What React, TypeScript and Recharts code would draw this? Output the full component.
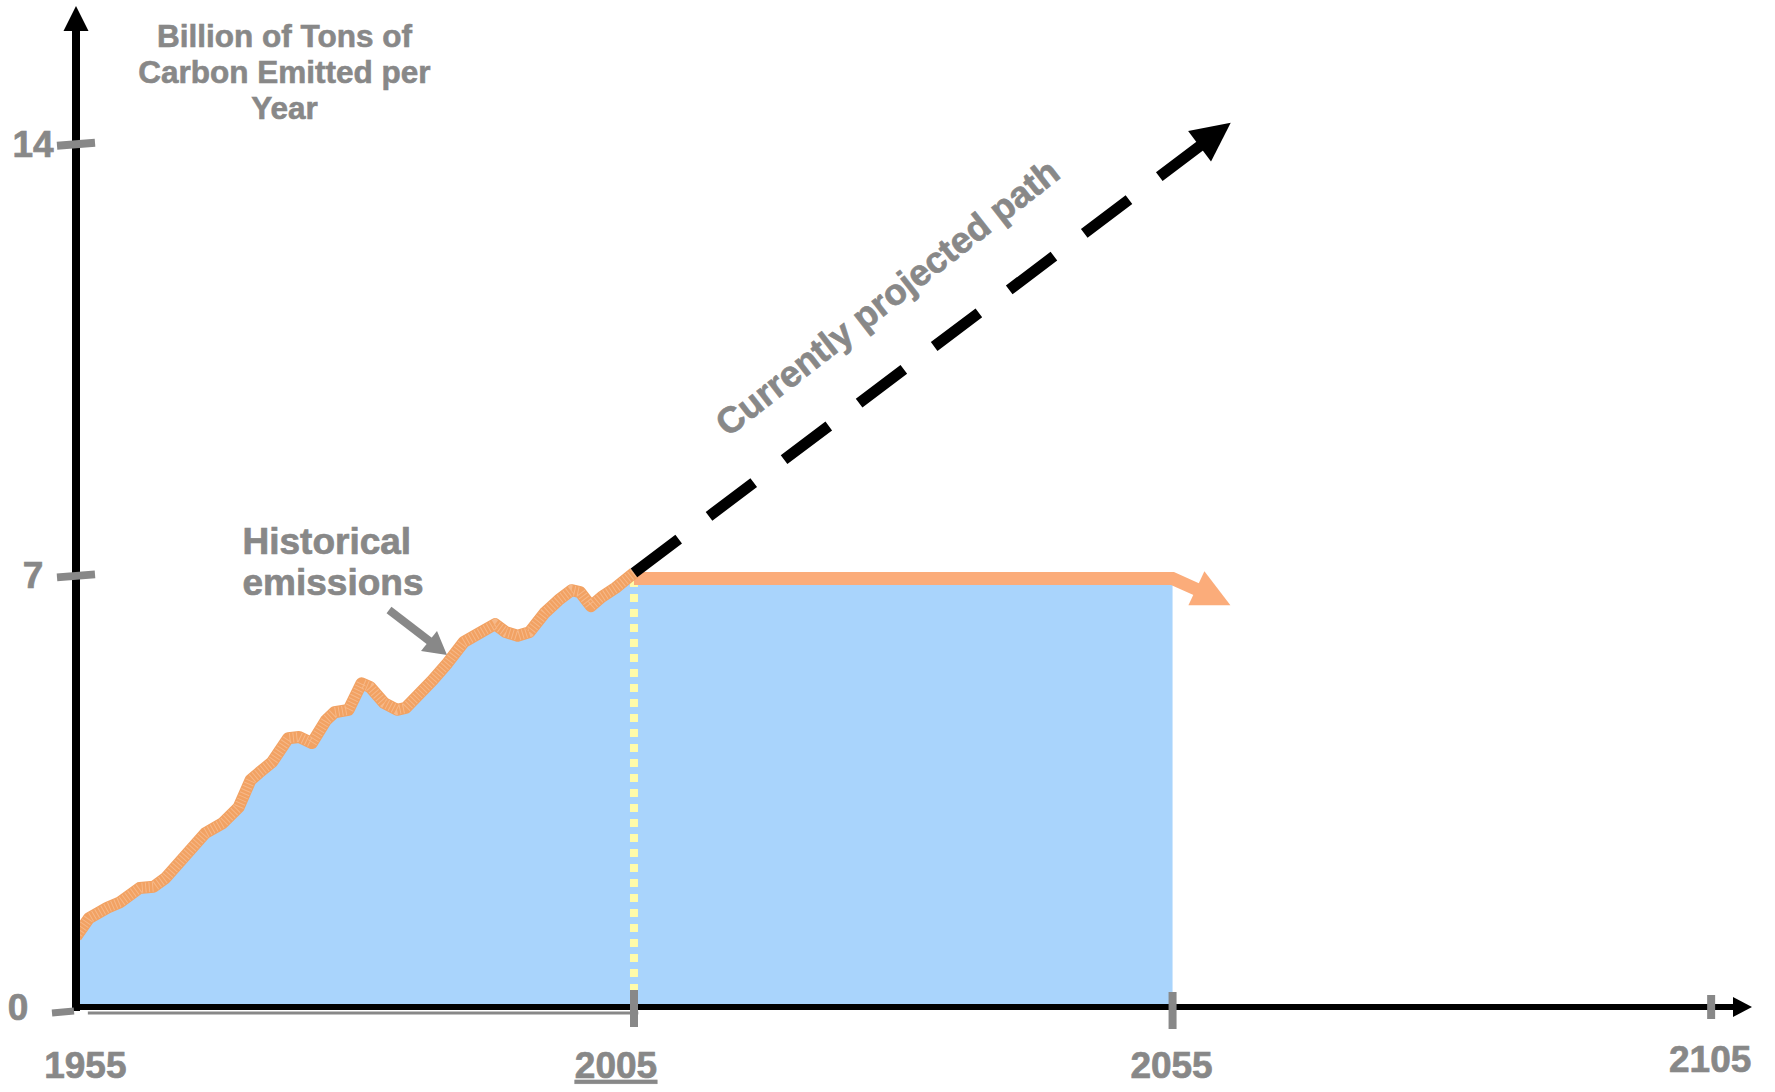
import React from 'react';
import {
  ComposedChart,
  Line,
  Area,
  XAxis,
  YAxis,
  ReferenceDot,
  ReferenceLine,
  Customized,
} from 'recharts';

// ---------- data ----------
const historyYears = [
  1953.2, 1954.4, 1956.1, 1957.3, 1959.1, 1960.4, 1961.5, 1965.2, 1966.8, 1968.3,
  1969.4, 1970.2, 1971.4, 1972.9, 1973.9, 1975.1, 1976.4, 1977.2, 1978.5, 1979.7,
  1980.5, 1981.8, 1983.0, 1983.8, 1986.3, 1987.7, 1989.2, 1990.7, 1992.1, 1993.1,
  1994.2, 1995.3, 1996.7, 1998.0, 1999.2, 2000.0, 2001.0, 2002.0, 2003.3, 2005.0,
];
const historyValues = [
  1.14, 1.44, 1.61, 1.7, 1.93, 1.95, 2.09, 2.82, 2.98, 3.24,
  3.68, 3.8, 3.97, 4.36, 4.38, 4.28, 4.65, 4.78, 4.82, 5.25,
  5.19, 4.93, 4.82, 4.85, 5.3, 5.58, 5.92, 6.07, 6.21, 6.08,
  6.02, 6.08, 6.39, 6.6, 6.76, 6.73, 6.5, 6.65, 6.8, 7.04,
];
const flatYears = [2005, 2055, 2057.4];
const flatValues = [6.95, 6.95, 6.76];
const projectedYears = [2005, 2060.4];
const projectedValues = [7.04, 14.34];
const markerYears = [2005, 2005];
const markerValues = [0, 6.95];

const xTicks = [1955, 2005, 2055, 2105];
const yTicks = [0, 7, 14];
const xDomain: [number, number] = [1953.2, 2107.4];
const yDomain: [number, number] = [0, 15.91];

const titleLines = ['Billion of Tons of', 'Carbon Emitted per', 'Year'];
const historicalLabel = ['Historical', 'emissions'];
const flatLabel = 'Flat path';
const projectedLabel = 'Currently projected path';

// ---------- tables built from the arrays ----------
const zip = (xs: number[], ys: number[]) => xs.map((year, i) => ({ year, value: ys[i] }));
const historyData = zip(historyYears, historyValues);
const flatData = zip(flatYears, flatValues);
const projectedData = zip(projectedYears, projectedValues);
const markerData = zip(markerYears, markerValues);
const areaData = [...historyData, flatData[0], flatData[1]];

// ---------- styles ----------
const FONT = 'Liberation Sans, Arial, Helvetica, sans-serif';
const GREY = '#888888';
const BLUE = '#A9D4FC';
const ORANGE_FLAT = '#FBAC7A';
const ORANGE_HIST = '#F2A263';
const ORANGE_HIST_LIGHT = '#F8C299';
const YELLOW = '#FFFBAA';
const boldStyle = { fontWeight: 700, fontFamily: FONT } as React.CSSProperties;

const xTickStyle: Record<number, { up: number; down: number; dx: number; dy: number; mark: boolean }> = {
  1955: { up: 0, down: 0, dx: -10, dy: 71, mark: false },
  2005: { up: 17, down: 20, dx: -18, dy: 71, mark: true },
  2055: { up: 15, down: 22, dx: -1, dy: 71, mark: true },
  2105: { up: 12, down: 12, dx: -1, dy: 65, mark: true },
};

const XTick = (props: any) => {
  const { x, y, payload } = props;
  const v = payload.value as number;
  const s = xTickStyle[v] || { up: 16, down: 20, dx: 0, dy: 71, mark: true };
  return (
    <g>
      {s.mark && (
        <line x1={x} y1={y - s.up} x2={x} y2={y + s.down} stroke={GREY} strokeWidth={8} />
      )}
      <text
        x={x + s.dx}
        y={y + s.dy}
        textAnchor="middle"
        fontFamily={FONT}
        fontWeight="bold"
        fontSize={37}
        fill={GREY}
        stroke={GREY}
        strokeWidth={0.7}
        style={v === 2005 ? { ...boldStyle, textDecoration: 'underline' } : boldStyle}
      >
        {v}
      </text>
    </g>
  );
};

const YTick = (props: any) => {
  const { x, y, payload } = props;
  const v = payload.value as number;
  const isZero = v === 0;
  return (
    <g>
      {isZero ? (
        <line x1={x - 24} y1={y + 6} x2={x - 2} y2={y + 4} stroke={GREY} strokeWidth={7} />
      ) : (
        <line x1={x - 19} y1={y + 2} x2={x + 19} y2={y - 1} stroke={GREY} strokeWidth={8} />
      )}
      <text
        x={isZero ? x - 58 : x - 43}
        y={y + 13}
        textAnchor="middle"
        fontFamily={FONT}
        fontWeight="bold"
        fontSize={37}
        fill={GREY}
        stroke={GREY}
        strokeWidth={0.7}
        style={boldStyle}
      >
        {v}
      </text>
    </g>
  );
};

// arrowhead at the last point of a line, oriented along the last segment
const seenProj: Record<number, { x: number; y: number }> = {};
const ProjectedArrowDot = (props: any) => {
  const { cx, cy, index } = props;
  seenProj[index] = { x: cx, y: cy };
  const pts = props.points;
  const last = projectedData.length - 1;
  if (index !== last) return <g key={`pd-${index}`} />;
  const prev = pts && pts[index - 1] ? pts[index - 1] : seenProj[index - 1];
  if (!prev) return <g key={`pd-${index}`} />;
  const ang = Math.atan2(cy - prev.y, cx - prev.x);
  const len = 39;
  const half = 19;
  const bx = cx - len * Math.cos(ang);
  const by = cy - len * Math.sin(ang);
  const px = -Math.sin(ang) * half;
  const py = Math.cos(ang) * half;
  return (
    <polygon
      key={`pd-${index}`}
      points={`${cx},${cy} ${bx + px},${by + py} ${bx - px},${by - py}`}
      fill="#000"
    />
  );
};

const FlatArrowDot = (props: any) => {
  const { cx, cy, index } = props;
  if (index !== flatData.length - 1) return <g key={`fd-${index}`} />;
  return (
    <polygon
      key={`fd-${index}`}
      points={`${cx + 6},${cy - 19} ${cx - 10},${cy + 15} ${cx + 32},${cy + 15}`}
      fill={ORANGE_FLAT}
    />
  );
};

const XArrow = (props: any) => {
  const { cx, cy } = props;
  return <polygon points={`${cx + 15},${cy} ${cx - 4},${cy - 10} ${cx - 4},${cy + 10}`} fill="#000" />;
};
const YArrow = (props: any) => {
  const { cx, cy } = props;
  return <polygon points={`${cx},${cy - 20} ${cx - 12.5},${cy + 5} ${cx + 12.5},${cy + 5}`} fill="#000" />;
};

const AxisShadow = (props: any) => {
  const { x1, y1, x2, y2 } = props;
  return <line x1={x1} y1={y1 + 6} x2={x2} y2={y2 + 6} stroke={GREY} strokeWidth={3} />;
};

const Annotations = () => (
  <g fontFamily={FONT} fontWeight="bold" style={boldStyle}>
    {titleLines.map((t, i) => (
      <text
        key={t}
        x={284.5}
        y={46.7 + i * 36.3}
        textAnchor="middle"
        fontSize={31.5}
        fill={GREY}
        stroke={GREY}
        strokeWidth={0.6}
      >
        {t}
      </text>
    ))}
    {historicalLabel.map((t, i) => (
      <text
        key={t}
        x={242.5}
        y={554 + i * 41}
        textAnchor="start"
        fontSize={37}
        fill={GREY}
        stroke={GREY}
        strokeWidth={0.7}
      >
        {t}
      </text>
    ))}
    <line x1={389} y1={610} x2={432} y2={643} stroke={GREY} strokeWidth={8} />
    <polygon points="447,655 421,651 437,631" fill={GREY} />
    <text x={952} y={630} textAnchor="middle" fontSize={37} fill="#000" stroke="#000" strokeWidth={0.6}>
      {flatLabel}
    </text>
    <text
      x={887}
      y={297}
      dy="0.36em"
      textAnchor="middle"
      fontSize={36.5}
      fill={GREY}
      stroke={GREY}
      strokeWidth={0.7}
      transform="rotate(-38 887 297)"
    >
      {projectedLabel}
    </text>
  </g>
);

export default function App() {
  return (
    <div style={{ position: 'absolute', left: 0, top: 0, background: '#fff' }}>
      <ComposedChart
        width={1775}
        height={1092}
        margin={{ top: 26, right: 38, bottom: 0, left: 0 }}
      >
        <XAxis
          type="number"
          dataKey="year"
          domain={xDomain}
          allowDataOverflow
          ticks={xTicks}
          interval={0}
          height={85}
          tickLine={false}
          tickSize={0}
          tickMargin={0}
          axisLine={{ stroke: '#000', strokeWidth: 6, strokeLinecap: 'square' }}
          tick={(p: any) => <XTick {...p} />}
        />
        <YAxis
          type="number"
          domain={yDomain}
          allowDataOverflow
          ticks={yTicks}
          interval={0}
          width={76}
          tickLine={false}
          tickSize={0}
          tickMargin={0}
          axisLine={{ stroke: '#000', strokeWidth: 8, strokeLinecap: 'square' }}
          tick={(p: any) => <YTick {...p} />}
        />
        <Area
          data={areaData}
          dataKey="value"
          type="linear"
          stroke="none"
          fill={BLUE}
          fillOpacity={1}
          isAnimationActive={false}
          dot={false}
          activeDot={false}
        />
        <ReferenceLine
          segment={[
            { x: 1954.3, y: 0 },
            { x: 2005.4, y: 0 },
          ]}
          ifOverflow="visible"
          shape={(p: any) => <AxisShadow {...p} />}
        />
        <Line
          data={markerData}
          dataKey="value"
          type="linear"
          stroke={YELLOW}
          strokeWidth={8}
          strokeDasharray="8 7"
          dot={false}
          activeDot={false}
          isAnimationActive={false}
        />
        <Line
          data={flatData}
          dataKey="value"
          type="linear"
          stroke={ORANGE_FLAT}
          strokeWidth={13}
          strokeLinejoin="miter"
          dot={(p: any) => <FlatArrowDot {...p} key={`f-${p.index}`} />}
          activeDot={false}
          isAnimationActive={false}
        />
        <Line
          data={historyData}
          dataKey="value"
          type="linear"
          stroke={ORANGE_HIST}
          strokeWidth={12}
          strokeLinejoin="round"
          strokeLinecap="butt"
          dot={false}
          activeDot={false}
          isAnimationActive={false}
        />
        <Line
          data={historyData}
          dataKey="value"
          type="linear"
          stroke={ORANGE_HIST_LIGHT}
          strokeWidth={10}
          strokeDasharray="1 2.5"
          strokeOpacity={0.7}
          dot={false}
          activeDot={false}
          isAnimationActive={false}
        />
        <Line
          data={projectedData}
          dataKey="value"
          type="linear"
          stroke="#000"
          strokeWidth={11}
          strokeDasharray="56 38"
          strokeLinecap="butt"
          dot={(p: any) => <ProjectedArrowDot {...p} key={`p-${p.index}`} />}
          activeDot={false}
          isAnimationActive={false}
        />
        <ReferenceDot
          x={xDomain[1]}
          y={0}
          r={1}
          ifOverflow="visible"
          shape={(p: any) => <XArrow {...p} />}
        />
        <ReferenceDot
          x={xDomain[0]}
          y={yDomain[1]}
          r={1}
          ifOverflow="visible"
          shape={(p: any) => <YArrow {...p} />}
        />
        <Customized component={Annotations} />
      </ComposedChart>
    </div>
  );
}
